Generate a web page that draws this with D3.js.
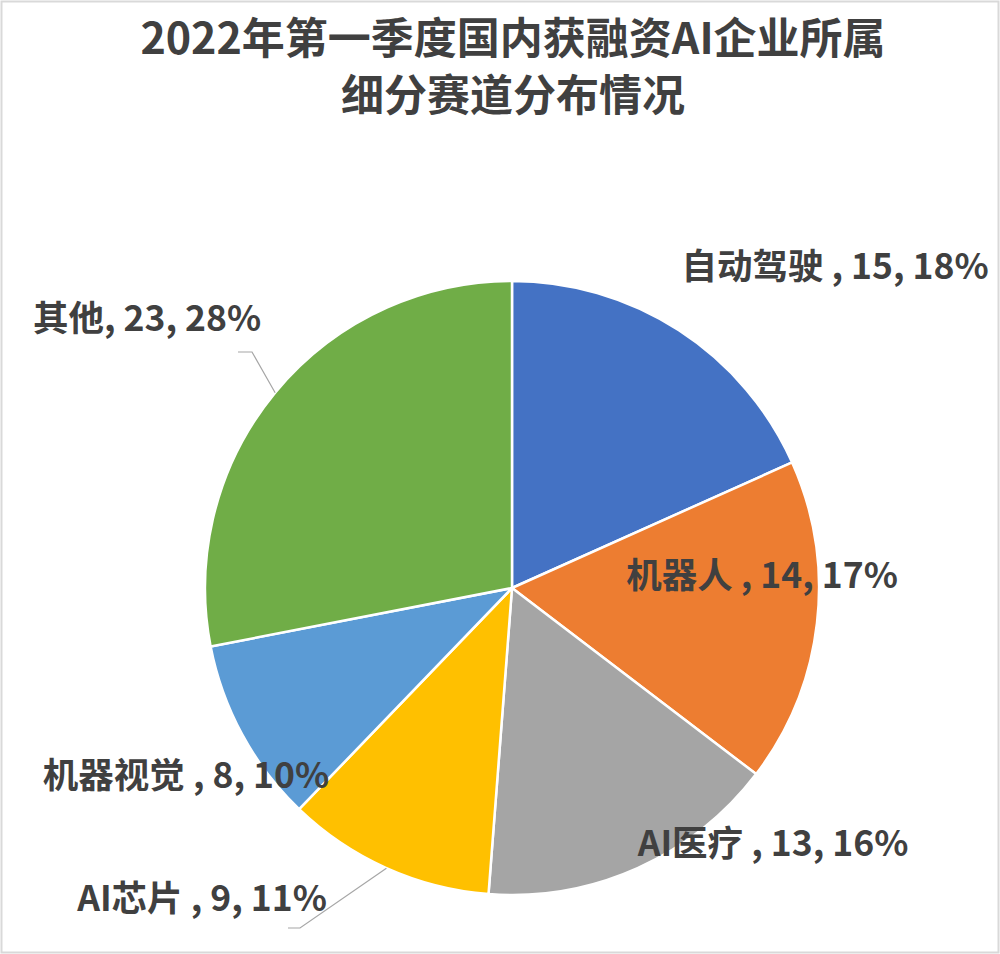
<!DOCTYPE html>
<html>
<head>
<meta charset="utf-8">
<script src="https://cdn.jsdelivr.net/npm/d3@7"></script>
<style>
  html, body { margin: 0; padding: 0; background: #fff; }
  svg { display: block; }
  text { font-family: "Noto Sans CJK SC", "Noto Sans", sans-serif; }
</style>
</head>
<body>
<svg id="chart" width="1000" height="954"></svg>
<script>
// ---- data ----
const titleLines = ["2022年第一季度国内获融资AI企业所属", "细分赛道分布情况"];
const categories = ["自动驾驶", "机器人", "AI医疗", "AI芯片", "机器视觉", "其他"];
const values = [15, 14, 13, 9, 8, 23];
const percents = ["18%", "17%", "16%", "11%", "10%", "28%"];
const separators = [" , ", " , ", " , ", " , ", " , ", ", "];

// ---- styles / layout ----
const colors = ["#4472C4", "#ED7D31", "#A5A5A5", "#FFC000", "#5B9BD5", "#70AD47"];
const W = 1000, H = 954;
const cx = 512, cy = 588, R = 307;
// label centres relative to pie centre (layout only)
const labelOffsets = [[323, -325], [250, -16], [261, 252], [-310, 307], [-326, 184], [-365, -273]];
const leaderSlices = { 5: [[238 - cx, 352 - cy], [252 - cx, 352 - cy]], 3: [[288 - cx, 928 - cy], [300 - cx, 928 - cy]] };

const svg = d3.select("#chart");
svg.append("rect").attr("x", 1.5).attr("y", 1.5).attr("width", W - 3).attr("height", H - 3)
  .attr("fill", "#fff").attr("stroke", "#d9d9d9").attr("stroke-width", 2);

svg.selectAll("text.title").data(titleLines).enter().append("text")
  .attr("class", "title")
  .attr("x", 513).attr("y", (d, i) => 54 + i * 57)
  .attr("text-anchor", "middle")
  .attr("font-size", 43).attr("font-weight", "bold").attr("fill", "#404040")
  .text(d => d);

const data = categories.map((c, i) => ({ name: c, value: values[i], pct: percents[i], sep: separators[i], i }));
const pie = d3.pie().value(d => d.value).sort(null);
const arcs = pie(data);
const arc = d3.arc().innerRadius(0).outerRadius(R);

const g = svg.append("g").attr("transform", `translate(${cx},${cy})`);
g.selectAll("path.slice").data(arcs).enter().append("path")
  .attr("class", "slice")
  .attr("d", arc)
  .attr("fill", d => colors[d.data.i])
  .attr("stroke", "#fff").attr("stroke-width", 2.5).attr("stroke-linejoin", "round");

// leader lines
arcs.forEach(a => {
  const pts = leaderSlices[a.data.i];
  if (!pts) return;
  const mid = (a.startAngle + a.endAngle) / 2;
  const edge = [R * Math.sin(mid), -R * Math.cos(mid)];
  g.append("path")
    .attr("d", d3.line()([pts[0], pts[1], edge]))
    .attr("fill", "none").attr("stroke", "#a6a6a6").attr("stroke-width", 1.2);
});

g.selectAll("text.lbl").data(arcs).enter().append("text")
  .attr("class", "lbl")
  .attr("x", d => labelOffsets[d.data.i][0])
  .attr("y", d => labelOffsets[d.data.i][1])
  .attr("text-anchor", "middle").attr("dominant-baseline", "central")
  .attr("font-size", 35.5).attr("font-weight", "bold").attr("fill", "#404040")
  .text(d => `${d.data.name}${d.data.sep}${d.data.value}, ${d.data.pct}`);
</script>
</body>
</html>
